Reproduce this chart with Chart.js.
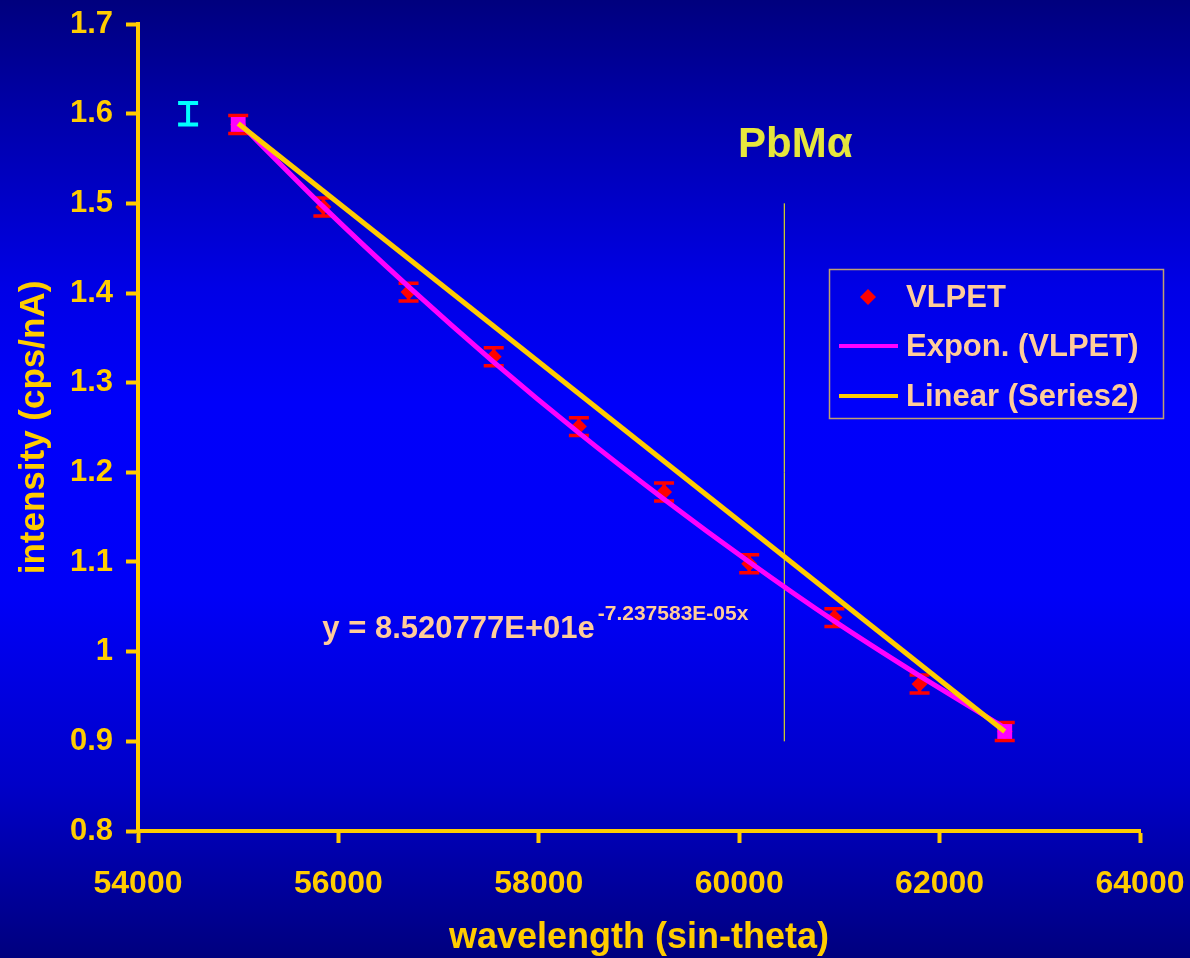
<!DOCTYPE html>
<html><head><meta charset="utf-8">
<script src="https://cdn.jsdelivr.net/npm/chart.js@4.4.1/dist/chart.umd.min.js"></script>
<style>html,body{margin:0;padding:0;background:#000080;overflow:hidden}canvas{display:block}</style>
</head><body>
<canvas id="c" width="1190" height="958"></canvas>
<script>
// ---- data ----
const wavelength   = [55000, 55850, 56700, 57550, 58400, 59250, 60100, 60950, 61800, 62650];
const intensity    = [1.588, 1.496, 1.401, 1.329, 1.251, 1.178, 1.098, 1.038, 0.964, 0.911];
const intensityErr = [0.010, 0.010, 0.010, 0.010, 0.010, 0.010, 0.010, 0.010, 0.010, 0.010];
const series2X = [55000, 62650];
const series2Y = [1.588, 0.911];
const exponX = [55000, 55850, 56700, 57550, 58400, 59250, 60100, 60950, 61800, 62650];
const exponY = [1.591, 1.496, 1.407, 1.323, 1.244, 1.170, 1.100, 1.034, 0.973, 0.915];
const linearX = [55000, 62650];
const linearY = [1.589, 0.911];
const markerX = [60450, 60450];
const markerY = [0.9, 1.5];
const refBarX = [54500];
const refBarY = [1.6];
const refBarErr = [0.012];
const xTicks = [54000, 56000, 58000, 60000, 62000, 64000];
const xTickLabels = ['54000', '56000', '58000', '60000', '62000', '64000'];
const yTicks = [0.8, 0.9, 1.0, 1.1, 1.2, 1.3, 1.4, 1.5, 1.6, 1.7];
const yTickLabels = ['0.8', '0.9', '1', '1.1', '1.2', '1.3', '1.4', '1.5', '1.6', '1.7'];
const peakLabel = 'PbMα';
const peakLabelPos = [60560, 1.565];
const eqMain = 'y = 8.520777E+01e';
const eqSup = '-7.237583E-05x';
const eqPos = [55840, 1.0155];

const FONT = "'Liberation Sans', Arial, Helvetica, sans-serif";
const GOLD = '#ffcc00';
const PEACH = '#ffcc99';
const pts = (xs, ys) => xs.map((x, i) => ({x: x, y: ys[i]}));

const bgPlugin = {
  id: 'bg',
  beforeDraw(chart) {
    const {ctx, width, height} = chart;
    const g = ctx.createLinearGradient(0, 0, 0, height);
    g.addColorStop(0, '#00007e');
    g.addColorStop(0.12, '#0000aa');
    g.addColorStop(0.30, '#0000e6');
    g.addColorStop(0.42, '#0000fa');
    g.addColorStop(0.62, '#0000f8');
    g.addColorStop(0.82, '#0000c8');
    g.addColorStop(1, '#00007e');
    ctx.save();
    ctx.fillStyle = g;
    ctx.fillRect(0, 0, width, height);
    ctx.restore();
  }
};

const errPlugin = {
  id: 'errbars',
  beforeDatasetsDraw(chart) {
    const ctx = chart.ctx;
    const ys = chart.scales.y;
    chart.data.datasets.forEach((ds, di) => {
      if (!ds.errors) return;
      const meta = chart.getDatasetMeta(di);
      ctx.save();
      ctx.strokeStyle = ds.errorColor;
      ctx.lineWidth = ds.errorWidth;
      meta.data.forEach((el, i) => {
        const v = ds.data[i].y, e = ds.errors[i];
        const x = el.x;
        const t = ys.getPixelForValue(v + e), b = ys.getPixelForValue(v - e);
        const hw = ds.errorCap;
        ctx.beginPath();
        ctx.moveTo(x, t); ctx.lineTo(x, b);
        ctx.moveTo(x - hw, t); ctx.lineTo(x + hw, t);
        ctx.moveTo(x - hw, b); ctx.lineTo(x + hw, b);
        ctx.stroke();
      });
      ctx.restore();
    });
  }
};

const textPlugin = {
  id: 'texts',
  afterDatasetsDraw(chart) {
    const ctx = chart.ctx;
    const xs = chart.scales.x, ys = chart.scales.y;
    ctx.save();
    ctx.font = 'bold 42px ' + FONT;
    ctx.fillStyle = '#e6e63c';
    ctx.textAlign = 'center';
    ctx.textBaseline = 'middle';
    ctx.fillText(peakLabel, xs.getPixelForValue(peakLabelPos[0]), ys.getPixelForValue(peakLabelPos[1]));
    const ex = xs.getPixelForValue(eqPos[0]), ey = ys.getPixelForValue(eqPos[1]);
    ctx.textAlign = 'left';
    ctx.textBaseline = 'alphabetic';
    ctx.fillStyle = PEACH;
    ctx.font = 'bold 31px ' + FONT;
    ctx.fillText(eqMain, ex, ey);
    const w = ctx.measureText(eqMain).width;
    ctx.font = 'bold 21px ' + FONT;
    ctx.fillText(eqSup, ex + w + 3, ey - 18);
    ctx.restore();
  }
};

const legendPlugin = {
  id: 'customLegend',
  afterDraw(chart) {
    const ctx = chart.ctx;
    const ds = chart.data.datasets;
    const bx = 829.5, by = 269.5, bw = 334, bh = 149;
    ctx.save();
    ctx.strokeStyle = '#c0a070';
    ctx.lineWidth = 1.5;
    ctx.strokeRect(bx, by, bw, bh);
    const rows = [297, 346, 396];
    const items = [ds[0], ds[2], ds[3]];
    ctx.font = 'bold 31px ' + FONT;
    ctx.textBaseline = 'middle';
    ctx.textAlign = 'left';
    items.forEach((d, i) => {
      const y = rows[i];
      if (i === 0) {
        ctx.fillStyle = d.backgroundColor;
        ctx.beginPath();
        ctx.moveTo(868, y - 8); ctx.lineTo(876, y); ctx.lineTo(868, y + 8); ctx.lineTo(860, y);
        ctx.closePath(); ctx.fill();
      } else {
        ctx.strokeStyle = d.borderColor;
        ctx.lineWidth = 4;
        ctx.beginPath(); ctx.moveTo(839, y); ctx.lineTo(898, y); ctx.stroke();
      }
      ctx.fillStyle = PEACH;
      ctx.fillText(d.label, 906, y + 1);
    });
    ctx.restore();
  }
};

new Chart(document.getElementById('c'), {
  type: 'scatter',
  data: {
    datasets: [
      { label: 'VLPET', data: pts(wavelength, intensity), errors: intensityErr,
        errorColor: '#ff0000', errorWidth: 3.5, errorCap: 10,
        pointStyle: 'rectRot', pointRadius: 8, backgroundColor: '#ff0000', borderColor: '#ff0000',
        borderWidth: 0, showLine: false, order: 5 },
      { label: 'Series2', data: pts(series2X, series2Y),
        pointStyle: 'rect', pointRadius: 10.5, backgroundColor: '#ff00ff', borderColor: '#ff00ff',
        borderWidth: 0, showLine: false, order: 4 },
      { label: 'Expon. (VLPET)', data: pts(exponX, exponY), showLine: true, borderColor: '#ff00ff',
        backgroundColor: '#ff00ff', borderWidth: 5, pointRadius: 0, tension: 0.2, order: 2 },
      { label: 'Linear (Series2)', data: pts(linearX, linearY), showLine: true, borderColor: GOLD,
        backgroundColor: GOLD, borderWidth: 5, pointRadius: 0, order: 1 },
      { label: 'marker', data: pts(markerX, markerY), showLine: true, borderColor: '#ffff00',
        borderWidth: 1, pointRadius: 0, order: 6 },
      { label: 'ref', data: pts(refBarX, refBarY), errors: refBarErr,
        errorColor: '#00ffff', errorWidth: 4, errorCap: 10, pointRadius: 0, showLine: false, order: 7 }
    ]
  },
  options: {
    responsive: false,
    animation: false,
    events: [],
    layout: { padding: { left: 0, right: 50, top: 24, bottom: 0 } },
    plugins: { legend: { display: false }, tooltip: { enabled: false } },
    scales: {
      x: {
        type: 'linear', min: 54000, max: 64000,
        afterBuildTicks: s => { s.ticks = xTicks.map(v => ({value: v})); },
        afterFit: s => { s.height = 127; s.paddingLeft = 0; s.paddingRight = 0; },
        ticks: { color: GOLD, font: { family: FONT, size: 32, weight: 'bold' }, padding: 22,
                 maxRotation: 0, autoSkip: false,
                 callback: v => xTickLabels[xTicks.indexOf(v)] },
        grid: { drawOnChartArea: false, drawTicks: true, tickLength: 12, tickWidth: 4, tickColor: GOLD, color: GOLD },
        border: { display: true, color: GOLD, width: 4 },
        title: { display: true, text: 'wavelength (sin-theta)', color: GOLD,
                 font: { family: FONT, size: 36, weight: 'bold', lineHeight: 1.1 }, padding: { top: 0, bottom: 0 } }
      },
      y: {
        type: 'linear', min: 0.8, max: 1.7,
        afterBuildTicks: s => { s.ticks = yTicks.map(v => ({value: v})); },
        afterFit: s => { s.width = 138; s.paddingTop = 0; s.paddingBottom = 0; },
        ticks: { color: GOLD, font: { family: FONT, size: 31, weight: 'bold' }, padding: 13,
                 autoSkip: false,
                 callback: v => yTickLabels[yTicks.indexOf(v)] },
        grid: { drawOnChartArea: false, drawTicks: true, tickLength: 12, tickWidth: 4, tickColor: GOLD, color: GOLD },
        border: { display: true, color: GOLD, width: 4 },
        title: { display: true, text: 'intensity (cps/nA)', color: GOLD,
                 font: { family: FONT, size: 35, weight: 'bold', lineHeight: 1.2 }, padding: { top: 13, bottom: 0 } }
      }
    }
  },
  plugins: [bgPlugin, errPlugin, textPlugin, legendPlugin]
});
</script>
</body></html>
